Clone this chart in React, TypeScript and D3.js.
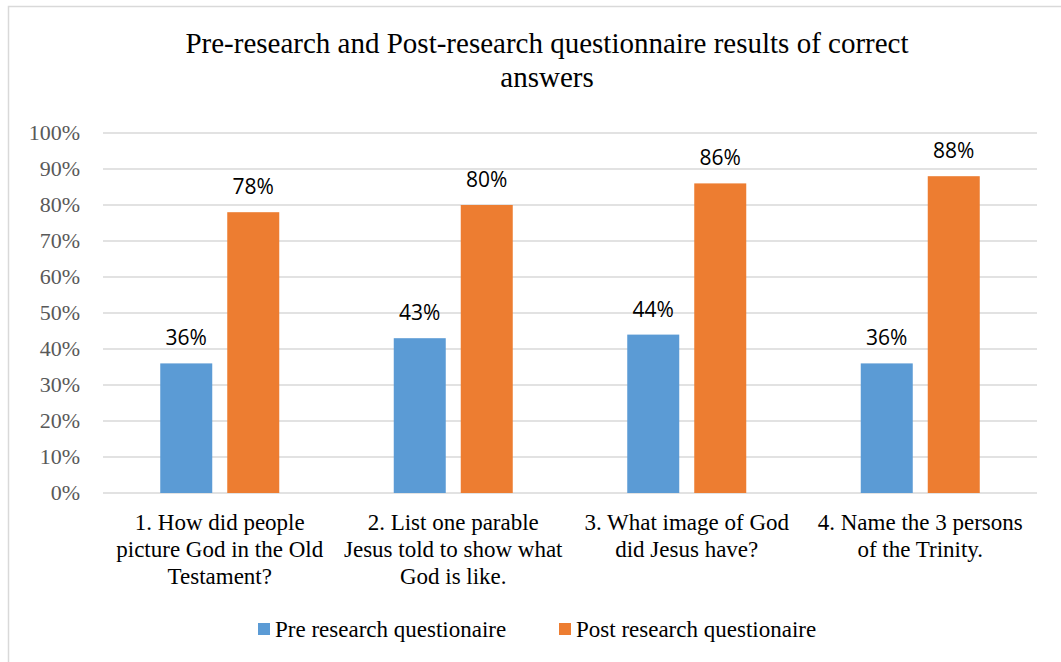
import React from "react";
import * as d3 from "d3";

const categories: string[][] = [
  ["1. How did people", "picture God in the Old", "Testament?"],
  ["2. List one parable", "Jesus told to show what", "God is like."],
  ["3. What image of God", "did Jesus have?"],
  ["4. Name the 3 persons", "of the Trinity."],
];
const seriesNames = ["Pre research questionaire", "Post research questionaire"];
const preValues = [36, 43, 44, 36];
const postValues = [78, 80, 86, 88];
const yTicks = [0, 10, 20, 30, 40, 50, 60, 70, 80, 90, 100];
const colors = ["#5B9BD5", "#ED7D31"];
const titleLines = [
  "Pre-research and Post-research questionnaire results of correct",
  "answers",
];

const W = 1061;
const H = 662;
const plot = { left: 103, right: 1037, top: 133, bottom: 493 };

const css = `
  .chart text { font-family: "Liberation Serif", "Times New Roman", Tinos, serif; }
  .chart text.value { font-family: "Open Sans", sans-serif; }
`;

export default function App() {
  const x0 = d3
    .scaleBand<number>()
    .domain(d3.range(categories.length))
    .range([plot.left, plot.right]);
  const y = d3.scaleLinear().domain([0, 100]).range([plot.bottom, plot.top]);
  const barW = 52;
  const gap = 15;
  const series = [preValues, postValues];

  return (
    <div style={{ position: "absolute", left: 0, top: 0, fontFamily: "Liberation Serif" }}>
      <style>{css}</style>
      <svg className="chart" width={W} height={H} style={{ display: "block" }}>
        <rect x={8.5} y={6.5} width={1100} height={700} fill="#fff" stroke="#d9d9d9" strokeWidth={1.5} />
        {titleLines.map((t, i) => (
          <text key={i} x={547} y={53 + i * 34} textAnchor="middle" fontSize={29} fill="#000">
            {t}
          </text>
        ))}
        {yTicks.map((t) => (
          <g key={t}>
            <line
              x1={plot.left}
              x2={plot.right}
              y1={y(t)}
              y2={y(t)}
              stroke="#d9d9d9"
              strokeWidth={1.5}
            />
            <text x={80} y={y(t)} dy="0.33em" textAnchor="end" fontSize={22} fill="#595959">
              {t}%
            </text>
          </g>
        ))}
        {categories.map((_, ci) => {
          const cx = (x0(ci) as number) + x0.bandwidth() / 2;
          return series.map((vals, si) => {
            const bx = si === 0 ? cx - gap / 2 - barW : cx + gap / 2;
            const v = vals[ci];
            return (
              <g key={`${ci}-${si}`}>
                <rect x={bx} y={y(v)} width={barW} height={y(0) - y(v)} fill={colors[si]} />
                <text
                  className="value"
                  x={bx + barW / 2}
                  y={y(v) - 18}
                  textAnchor="middle"
                  fontSize={21}
                  fill="#000"
                >
                  {v}%
                </text>
              </g>
            );
          });
        })}
        {categories.map((lines, ci) => {
          const cx = (x0(ci) as number) + x0.bandwidth() / 2;
          return (
            <text key={ci} textAnchor="middle" fontSize={23} fill="#000">
              {lines.map((l, li) => (
                <tspan key={li} x={cx} y={530 + li * 27}>
                  {l}
                </tspan>
              ))}
            </text>
          );
        })}
        {seriesNames.map((name, i) => {
          const lx = i === 0 ? 258 : 559;
          return (
            <g key={name}>
              <rect x={lx} y={623} width={12} height={12} fill={colors[i]} />
              <text x={lx + 17} y={637} fontSize={23} fill="#000">
                {name}
              </text>
            </g>
          );
        })}
      </svg>
    </div>
  );
}
